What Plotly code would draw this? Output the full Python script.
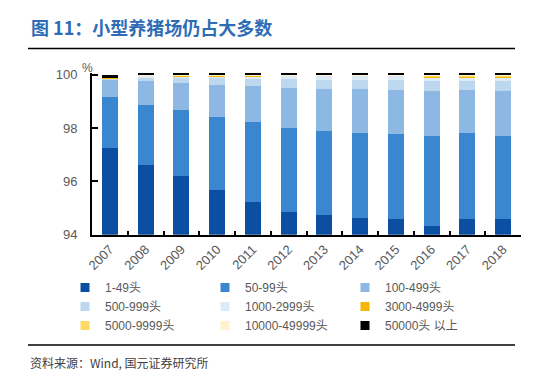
import plotly.graph_objects as go

years = ["2007", "2008", "2009", "2010", "2011", "2012", "2013", "2014", "2015", "2016", "2017", "2018"]

series_names = ["1-49头", "50-99头", "100-499头", "500-999头", "1000-2999头",
                "3000-4999头", "5000-9999头", "10000-49999头", "50000头以上"]
legend_labels = ["1-49头", "50-99头", "100-499头", "500-999头", "1000-2999头",
                 "3000-4999头", "5000-9999头", "10000-49999头", "50000头 以上"]
colors = ["#0B4EA2", "#3A87CF", "#8DB8E3", "#BDD7EE", "#DDEBF7",
          "#F7B500", "#FFD966", "#FFF2CC", "#000000"]

s_1_49 = [97.25, 96.61, 96.20, 95.68, 95.23, 94.85, 94.74, 94.63, 94.59, 94.33, 94.59, 94.59]
s_50_99 = [1.91, 2.25, 2.48, 2.73, 3.00, 3.15, 3.15, 3.18, 3.19, 3.37, 3.22, 3.11]
s_100_499 = [0.68, 0.90, 1.01, 1.20, 1.34, 1.50, 1.57, 1.65, 1.64, 1.69, 1.61, 1.69]
s_500_999 = [0.02, 0.15, 0.19, 0.27, 0.27, 0.34, 0.34, 0.34, 0.38, 0.37, 0.34, 0.37]
s_1000_2999 = [0.02, 0.05, 0.075, 0.075, 0.11, 0.13, 0.16, 0.16, 0.16, 0.15, 0.15, 0.15]
s_3000_4999 = [0.005, 0.01, 0.01, 0.01, 0.01, 0.01, 0.01, 0.01, 0.01, 0.04, 0.04, 0.04]
s_5000_9999 = [0.003, 0.005, 0.005, 0.005, 0.005, 0.005, 0.005, 0.005, 0.005, 0.02, 0.02, 0.02]
s_10000_49999 = [0.002, 0.005, 0.005, 0.005, 0.005, 0.005, 0.005, 0.005, 0.005, 0.015, 0.015, 0.015]
s_50000_up = [0.11, 0.075, 0.08, 0.08, 0.085, 0.075, 0.075, 0.075, 0.075, 0.075, 0.075, 0.075]

series = [s_1_49, s_50_99, s_100_499, s_500_999, s_1000_2999,
          s_3000_4999, s_5000_9999, s_10000_49999, s_50000_up]

y_ticks = [94, 96, 98, 100]

W, H = 549, 384
fig = go.Figure()

for name, vals, col in zip(series_names, series, colors):
    fig.add_trace(go.Bar(x=years, y=vals, name=name, marker=dict(color=col, line=dict(width=0)),
                         showlegend=False))

# legend entries (3 per row)
for lab, col in zip(legend_labels, colors):
    fig.add_trace(go.Scatter(x=[None], y=[None], mode="markers", name=lab,
                             marker=dict(symbol="square", size=9, color=col, line=dict(width=0)),
                             showlegend=True))

gray = "#595959"
latin = "Liberation Sans, Arial, sans-serif"

# paper = whole page (zero margins); plot area set via axis domains
plot_l, plot_r = 92, 521
y0_px, y_per = 234.7, 26.67
rng = [94, 100.07]
plot_t = y0_px - (rng[1] - rng[0]) * y_per

def fx(px):
    return px / W

def fy(py):
    return 1 - py / H

rule_y = [48.5, 345]
frame_lines = [dict(type="line", xref="paper", yref="paper", layer="above",
                    x0=fx(28), x1=fx(515), y0=fy(ly), y1=fy(ly),
                    line=dict(color="#000000", width=1.5))
               for ly in rule_y]

fig.update_layout(
    width=W, height=H,
    barmode="stack", bargap=0.55,
    plot_bgcolor="white", paper_bgcolor="white",
    margin=dict(l=0, r=0, t=0, b=0, autoexpand=False),
    xaxis=dict(type="category", domain=[fx(plot_l), fx(plot_r)],
               showline=True, linecolor="black", linewidth=2,
               ticks="inside", tickson="boundaries", ticklen=4, tickwidth=2, tickcolor="black",
               tickangle=-45, tickfont=dict(family=latin, size=13, color=gray),
               showgrid=False, zeroline=False),
    yaxis=dict(range=rng, domain=[fy(y0_px), fy(plot_t)],
               tickvals=y_ticks, ticktext=[str(v) for v in y_ticks],
               showline=True, linecolor="black", linewidth=2,
               ticks="inside", ticklen=6, tickwidth=2, tickcolor="black",
               ticklabelstandoff=10,
               tickfont=dict(family=latin, size=13, color=gray),
               showgrid=False, zeroline=False),
    legend=dict(orientation="h", xref="paper", yref="paper",
                x=fx(65), y=fy(273), xanchor="left", yanchor="top",
                traceorder="normal", entrywidth=95, entrywidthmode="pixels",
                itemwidth=30, bgcolor="rgba(0,0,0,0)",
                font=dict(family="Liberation Sans, Noto Sans CJK SC", size=12, color=gray)),
    shapes=frame_lines,
)

# title, source and unit
fig.add_annotation(xref="paper", yref="paper", x=fx(29), y=fy(27),
                   text="<b>图 11：小型养猪场仍占大多数</b>", showarrow=False,
                   xanchor="left", yanchor="middle",
                   font=dict(family="Noto Sans CJK SC", size=18, color="#2E6DB5"))
fig.add_annotation(xref="paper", yref="paper", x=fx(28), y=fy(362),
                   text="资料来源：Wind, 国元证券研究所", showarrow=False,
                   xanchor="left", yanchor="middle",
                   font=dict(family="Noto Sans CJK SC", size=12, color="#404040"))
fig.add_annotation(xref="paper", yref="paper", x=fx(80), y=fy(68),
                   text="%", showarrow=False, xanchor="left", yanchor="middle",
                   font=dict(family=latin, size=12, color=gray))

fig.write_html("out.html", post_script="document.body.style.margin='0px';",
               config={"displayModeBar": False})
